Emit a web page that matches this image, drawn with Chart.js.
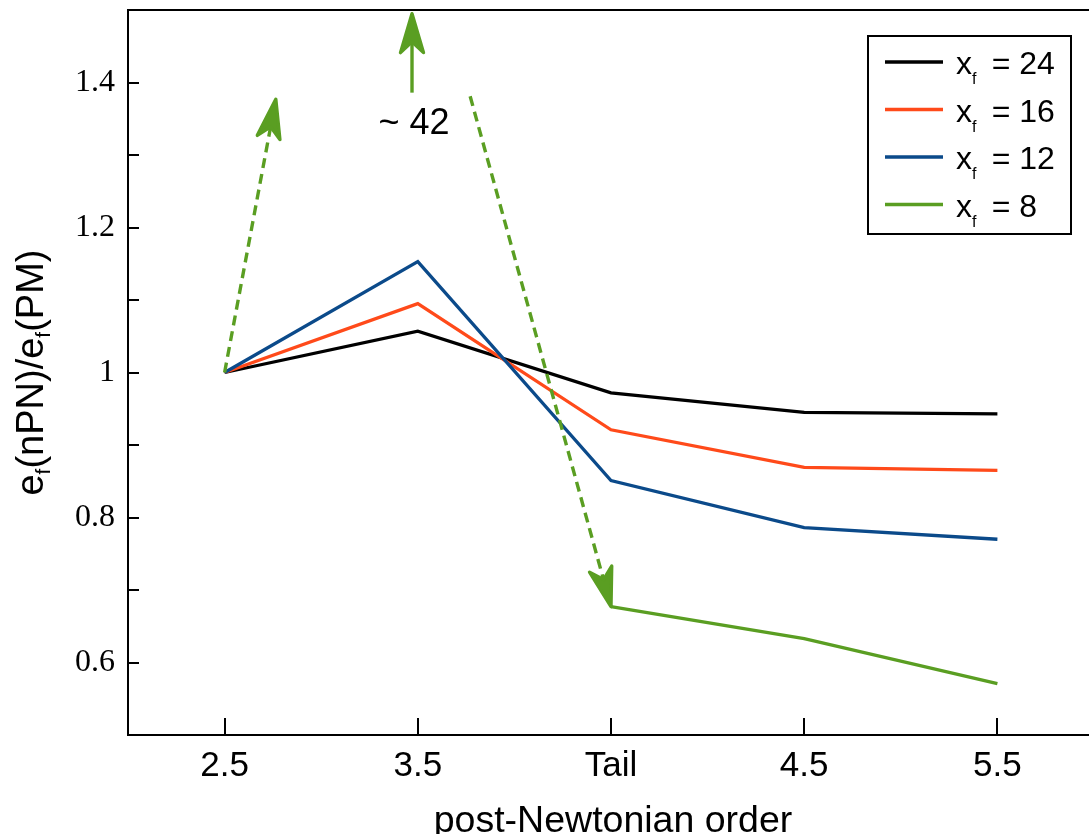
<!DOCTYPE html>
<html>
<head>
<meta charset="utf-8">
<script src="https://cdn.jsdelivr.net/npm/chart.js@4.4.1/dist/chart.umd.min.js"></script>
<style>
  html, body { margin: 0; padding: 0; background: #fff; overflow: hidden; }
  #wrap { width: 1100px; height: 834px; }
</style>
</head>
<body>
<div id="wrap"><canvas id="chart" width="1100" height="834"></canvas></div>
<script>
// x categories and y ticks
const xLabels = ['2.5', '3.5', 'Tail', '4.5', '5.5'];
const yMajorTicks = [0.6, 0.8, 1, 1.2, 1.4];
const yMinorTicks = [0.7, 0.9, 1.1, 1.3];

// e_f(nPN)/e_f(PM) for each x_f
const seriesNames = ['24', '16', '12', '8'];
const xf24 = [1.0, 1.057, 0.972, 0.945, 0.943];
const xf16 = [1.0, 1.095, 0.921, 0.869, 0.865];
const xf12 = [1.0, 1.153, 0.851, 0.786, 0.770];
const xf8 = [1.0, null, 0.677, 0.633, 0.571]; // at 3.5 it is ~42, off the chart
const offChartText = '~ 42';

// green arrows, [x index, y value] from -> to
const arrowUpLeft = [[0, 1.0], [0.265, 1.377]];
const arrowUpMid = [[0.97, 1.386], [0.97, 1.495]];
const arrowDown = [[1.271, 1.381], [2, 0.677]];
const offChartLabelAt = [0.98, 1.342];

const colors = ['#000000', '#ff4a1a', '#0b4a8a', '#5a9e22'];
const sans = 'Liberation Sans, Arial, sans-serif';
const serif = 'Liberation Serif, Times New Roman, serif';

//arrow with a filled head, optional dashed shaft
const drawArrow = (ctx, x0, y0, x1, y1, dashed) => {
  const ang = Math.atan2(y1 - y0, x1 - x0);
  const ux = Math.cos(ang), uy = Math.sin(ang);
  const headLen = 39, headW = 11.5;
  const nx = x1 - ux * headLen * 0.72, ny = y1 - uy * headLen * 0.72;
  const bx = x1 - ux * headLen, by = y1 - uy * headLen;
  ctx.setLineDash(dashed ? [10, 6] : []);
  ctx.beginPath();
  ctx.moveTo(x0, y0);
  ctx.lineTo(nx, ny);
  ctx.stroke();
  ctx.setLineDash([]);
  ctx.beginPath();
  ctx.moveTo(x1, y1);
  ctx.lineTo(bx - uy * headW, by + ux * headW);
  ctx.lineTo(nx, ny);
  ctx.lineTo(bx + uy * headW, by - ux * headW);
  ctx.closePath();
  ctx.fill();
  ctx.stroke();
};

//text with a subscript f, parts are [text, isSub]
const drawParts = (ctx, parts, x, y, size, subSize, subDrop, center) => {
  const fontFor = sub => (sub ? subSize : size) + 'px ' + sans;
  let total = 0;
  parts.forEach(([t, sub]) => { ctx.font = fontFor(sub); total += ctx.measureText(t).width; });
  let cx = center ? x - total / 2 : x;
  parts.forEach(([t, sub]) => {
    ctx.font = fontFor(sub);
    ctx.fillText(t, cx, sub ? y + subDrop : y);
    cx += ctx.measureText(t).width;
  });
};

const decorations = {
  id: 'decorations',
  afterDatasetsDraw(chart) {
    const ctx = chart.ctx;
    const xs = chart.scales.x, ys = chart.scales.y;
    const px = p => [xs.getPixelForValue(p[0]), ys.getPixelForValue(p[1])];
    ctx.save();
    ctx.strokeStyle = colors[3];
    ctx.fillStyle = colors[3];
    ctx.lineWidth = 3.4;
    ctx.lineJoin = 'round';
    [[arrowUpLeft, true], [arrowUpMid, false], [arrowDown, true]].forEach(([a, dashed]) => {
      const [x0, y0] = px(a[0]);
      const [x1, y1] = px(a[1]);
      drawArrow(ctx, x0, y0, x1, y1, dashed);
    });
    const [lx, ly] = px(offChartLabelAt);
    ctx.fillStyle = '#000';
    ctx.font = '36px ' + sans;
    ctx.textAlign = 'center';
    ctx.textBaseline = 'middle';
    ctx.fillText(offChartText, lx, ly);
    ctx.restore();
  },
  afterDraw(chart) {
    const ctx = chart.ctx;
    const ca = chart.chartArea;
    const xs = chart.scales.x, ys = chart.scales.y;
    ctx.save();
    ctx.strokeStyle = '#000';
    ctx.lineWidth = 2;

    //top frame line
    ctx.beginPath();
    ctx.moveTo(ca.left, ca.top);
    ctx.lineTo(ca.right, ca.top);
    ctx.stroke();

    //inward tick marks
    ctx.beginPath();
    yMajorTicks.concat(yMinorTicks).forEach(v => {
      const y = Math.round(ys.getPixelForValue(v));
      ctx.moveTo(ca.left, y);
      ctx.lineTo(ca.left + 11, y);
    });
    xLabels.forEach((_, i) => {
      const x = Math.round(xs.getPixelForValue(i));
      ctx.moveTo(x, ca.bottom);
      ctx.lineTo(x, ca.bottom - 17);
    });
    ctx.stroke();

    //axis titles
    ctx.fillStyle = '#000';
    ctx.textBaseline = 'alphabetic';
    ctx.textAlign = 'center';
    ctx.font = '37.5px ' + sans;
    ctx.fillText('post-Newtonian order', (ca.left + ca.right) / 2 + 2, 832);

    ctx.save();
    ctx.translate(0, (ca.top + ca.bottom) / 2);
    ctx.rotate(-Math.PI / 2);
    ctx.textAlign = 'left';
    drawParts(ctx, [['e', 0], ['f', 1], ['(nPN)/e', 0], ['f', 1], ['(PM)', 0]], 0, 43, 38, 21, 7, true);
    ctx.restore();

    //legend box
    const box = { l: 868, t: 36, r: 1071, b: 234 };
    ctx.lineWidth = 2;
    ctx.fillStyle = '#fff';
    ctx.fillRect(box.l, box.t, box.r - box.l, box.b - box.t);
    ctx.strokeRect(box.l, box.t, box.r - box.l, box.b - box.t);
    seriesNames.forEach((name, k) => {
      const y = 62 + k * 47.5;
      ctx.strokeStyle = colors[k];
      ctx.lineWidth = 3.5;
      ctx.beginPath();
      ctx.moveTo(885, y);
      ctx.lineTo(943, y);
      ctx.stroke();
      ctx.fillStyle = '#000';
      ctx.textAlign = 'left';
      drawParts(ctx, [['x', 0], ['f', 1], ['\u2009 = ' + name, 0]], 956, y + 12, 32, 16, 10, false);
    });
    ctx.restore();
  }
};

const datasets = [xf24, xf16, xf12, xf8].map((vals, k) => ({
  label: 'x_f = ' + seriesNames[k],
  data: vals.map((v, i) => ({ x: i, y: v })),
  borderColor: colors[k],
  backgroundColor: colors[k],
  borderWidth: 3.3,
  pointRadius: 0,
  tension: 0,
  spanGaps: false,
  order: 3 - k
}));

const noPad = s => { s.paddingTop = 0; s.paddingBottom = 0; s.paddingLeft = 0; s.paddingRight = 0; };

new Chart(document.getElementById('chart').getContext('2d'), {
  type: 'line',
  data: { datasets },
  options: {
    responsive: false,
    animation: false,
    devicePixelRatio: 1,
    layout: { padding: { top: 10, right: 6, left: 0, bottom: 0 } },
    plugins: { legend: { display: false }, tooltip: { enabled: false } },
    scales: {
      x: {
        type: 'linear',
        min: -0.5,
        max: 4.5,
        afterBuildTicks: s => { s.ticks = xLabels.map((_, i) => ({ value: i })); },
        afterFit: s => { s.height = 99; noPad(s); },
        grid: { display: false, drawTicks: false },
        border: { display: true, color: '#000', width: 2 },
        ticks: {
          callback: v => xLabels[v],
          color: '#000',
          font: { family: sans, size: 35 },
          padding: 10,
          maxRotation: 0,
          autoSkip: false
        }
      },
      y: {
        min: 0.5,
        max: 1.5,
        afterBuildTicks: s => { s.ticks = yMajorTicks.map(v => ({ value: v })); },
        afterFit: s => { s.width = 128; noPad(s); },
        grid: { display: false, drawTicks: false },
        border: { display: true, color: '#000', width: 2 },
        ticks: {
          callback: v => (v === 1 ? '1' : v.toFixed(1)),
          color: '#000',
          font: { family: serif, size: 32 },
          padding: 13
        }
      }
    }
  },
  plugins: [decorations]
});
</script>
</body>
</html>
